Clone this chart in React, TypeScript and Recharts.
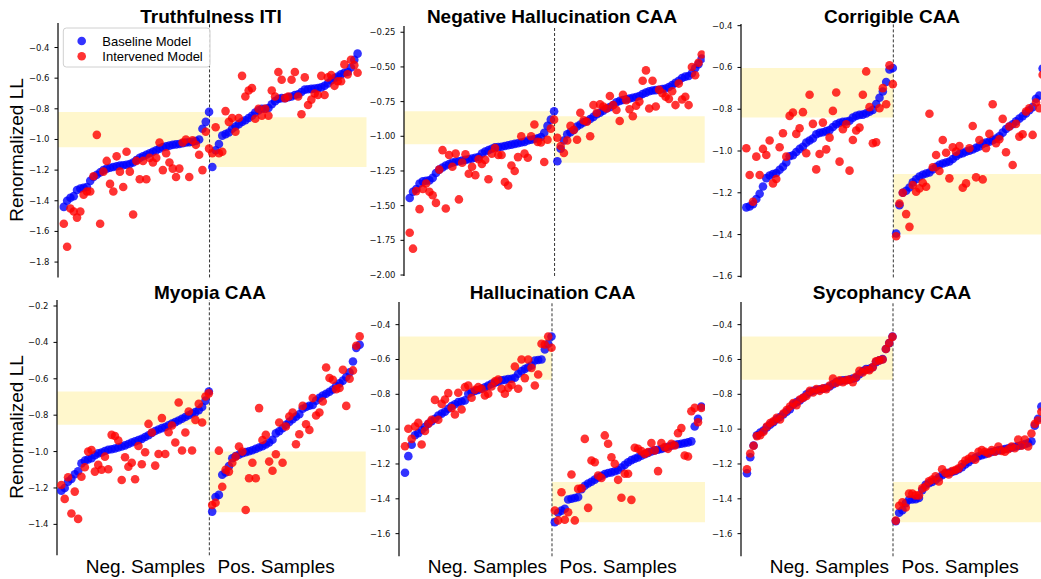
import React from "react";
import {
  ScatterChart,
  Scatter,
  XAxis,
  YAxis,
  ReferenceArea,
  ReferenceLine,
} from "recharts";

// Truthfulness ITI
const truthNegBase = [
  -1.44, -1.40, -1.38, -1.37, -1.33, -1.32, -1.315, -1.31, -1.27, -1.245,
  -1.23, -1.215, -1.20, -1.19, -1.185, -1.18, -1.175, -1.17, -1.168, -1.165,
  -1.16, -1.15, -1.135, -1.12, -1.11, -1.10, -1.09, -1.08, -1.07, -1.06,
  -1.05, -1.045, -1.04, -1.035, -1.032, -1.03, -1.025, -1.02, -1.018, -1.015,
  -1.01, -1.0, -0.93, -0.885, -0.82,
];
const truthNegInt = [
  -1.55, -1.70, -1.45, -1.47, -1.51, -1.47, -1.36, -1.34, -1.34, -1.24,
  -0.97, -1.55, -1.21, -1.14, -1.29, -1.34, -1.11, -1.21, -1.31, -1.08,
  -1.21, -1.49, -1.14, -1.26, -1.14, -1.26, -1.12, -1.15, -1.12, -1.02,
  -1.20, -1.09, -1.15, -1.19, -1.245, -1.19, -1.02, -1.00, -1.245, -1.005,
  -1.035, -1.10, -1.20, -0.95, -1.06,
];
const truthPosBase = [
  -1.18, -1.07, -1.03, -0.975, -0.965, -0.955, -0.93, -0.915, -0.90, -0.885,
  -0.875, -0.86, -0.845, -0.825, -0.81, -0.80, -0.80, -0.795, -0.77, -0.75,
  -0.735, -0.73, -0.73, -0.725, -0.72, -0.71, -0.705, -0.69, -0.675, -0.672,
  -0.67, -0.668, -0.665, -0.66, -0.65, -0.635, -0.615, -0.60, -0.59, -0.575,
  -0.565, -0.56, -0.53, -0.48, -0.44,
];
const truthPosInt = [
  -1.09, -0.92, -1.09, -1.08, -0.815, -0.885, -0.86, -0.95, -0.86, -0.585,
  -0.72, -0.68, -0.665, -0.865, -0.80, -0.845, -0.80, -0.845, -0.68, -0.72,
  -0.56, -0.61, -0.73, -0.72, -0.61, -0.56, -0.72, -0.835, -0.595, -0.775,
  -0.74, -0.70, -0.71, -0.585, -0.71, -0.595, -0.58, -0.65, -0.62, -0.62,
  -0.51, -0.575, -0.48, -0.515, -0.565,
];

// Negative Hallucination CAA
const negHalNegBase = [
  -1.445, -1.40, -1.38, -1.34, -1.325, -1.32, -1.318, -1.30, -1.265, -1.24,
  -1.225, -1.21, -1.20, -1.19, -1.183, -1.18, -1.175, -1.17, -1.165, -1.16,
  -1.155, -1.15, -1.125, -1.11, -1.10, -1.09, -1.08, -1.078, -1.075, -1.07,
  -1.065, -1.06, -1.055, -1.05, -1.045, -1.04, -1.03, -1.025, -1.02, -1.015,
  -1.005, -0.975, -0.925, -0.88, -0.82,
];
const negHalNegInt = [
  -1.695, -1.81, -1.395, -1.525, -1.38, -1.34, -1.40, -1.425, -1.48, -1.24,
  -1.10, -1.52, -1.135, -1.22, -1.125, -1.455, -1.19, -1.13, -1.27, -1.22,
  -1.28, -1.165, -1.20, -1.17, -1.31, -1.125, -1.085, -1.135, -1.135, -1.33,
  -1.355, -1.21, -1.25, -1.15, -1.0, -1.125, -1.155, -1.0, -0.915, -1.04,
  -1.045, -1.185, -1.025, -0.945, -0.88,
];
const negHalPosBase = [
  -1.18, -1.09, -1.03, -0.985, -0.97, -0.955, -0.93, -0.915, -0.90, -0.89,
  -0.875, -0.86, -0.84, -0.83, -0.815, -0.80, -0.79, -0.775, -0.755, -0.745,
  -0.738, -0.733, -0.728, -0.722, -0.717, -0.71, -0.695, -0.685, -0.675, -0.67,
  -0.667, -0.664, -0.66, -0.655, -0.645, -0.63, -0.615, -0.60, -0.58, -0.57,
  -0.565, -0.545, -0.51, -0.48, -0.44,
];
const negHalPosInt = [
  -1.01, -1.07, -1.12, -1.03, -0.925, -0.955, -1.025, -0.83, -0.885, -0.895,
  -1.0, -0.775, -0.83, -0.77, -0.785, -0.80, -0.71, -0.775, -0.81, -0.89,
  -0.70, -0.74, -0.805, -0.855, -0.78, -0.75, -0.60, -0.525, -0.80, -0.60,
  -0.785, -0.665, -0.69, -0.715, -0.73, -0.675, -0.775, -0.62, -0.735, -0.715,
  -0.775, -0.50, -0.56, -0.47, -0.41,
];

// Corrigible CAA
const corrNegBase = [
  -1.27, -1.265, -1.255, -1.23, -1.205, -1.17, -1.13, -1.117, -1.11, -1.105,
  -1.09, -1.075, -1.055, -1.025, -1.02, -1.005, -0.99, -0.98, -0.96, -0.95,
  -0.94, -0.92, -0.913, -0.91, -0.905, -0.90, -0.885, -0.872, -0.865, -0.86,
  -0.859, -0.855, -0.84, -0.832, -0.827, -0.826, -0.82, -0.812, -0.803, -0.775,
  -0.745, -0.715, -0.67, -0.61, -0.603,
];
const corrNegInt = [
  -0.987, -1.115, -1.243, -1.027, -1.115, -0.99, -1.019, -0.95, -1.155, -1.134,
  -0.982, -0.915, -1.027, -0.832, -0.816, -0.918, -0.891, -0.814, -1.011, -0.731,
  -0.87, -1.088, -1.014, -0.864, -0.992, -0.936, -0.808, -0.72, -1.051, -0.896,
  -0.872, -1.094, -0.947, -0.902, -0.888, -0.731, -0.619, -0.79, -0.963, -0.958,
  -0.795, -0.699, -0.776, -0.59, -0.68,
];
const corrPosBase = [
  -1.395, -1.26, -1.20, -1.19, -1.175, -1.15, -1.135, -1.122, -1.114, -1.108,
  -1.103, -1.088, -1.075, -1.066, -1.06, -1.055, -1.05, -1.038, -1.025, -1.015,
  -1.01, -1.003, -0.998, -0.993, -0.985, -0.978, -0.966, -0.96, -0.955, -0.948,
  -0.94, -0.93, -0.912, -0.895, -0.883, -0.872, -0.858, -0.845, -0.833, -0.82,
  -0.805, -0.79, -0.75, -0.735, -0.605,
];
const corrPosInt = [
  -1.408, -1.251, -1.20, -1.302, -1.363, -1.163, -1.195, -1.179, -1.152, -1.171,
  -0.822, -1.078, -1.019, -1.096, -0.947, -1.008, -1.131, -0.982, -1.003, -0.976,
  -1.176, -1.155, -0.987, -0.88, -1.126, -0.947, -1.136, -0.987, -0.918, -0.776,
  -0.963, -0.944, -0.846, -1.006, -0.883, -1.067, -0.87, -0.931, -0.92, -0.811,
  -0.795, -0.923, -0.768, -0.795, -0.635,
];

// Myopia CAA
const myoNegBase = [
  -1.215, -1.20, -1.165, -1.15, -1.125, -1.108, -1.065, -1.05, -1.043, -1.037,
  -1.02, -1.01, -1.005, -0.997, -0.99, -0.987, -0.983, -0.978, -0.972, -0.966,
  -0.958, -0.95, -0.944, -0.937, -0.93, -0.92, -0.91, -0.898, -0.887, -0.879,
  -0.871, -0.865, -0.855, -0.846, -0.838, -0.829, -0.82, -0.81, -0.80, -0.791,
  -0.783, -0.772, -0.755, -0.72, -0.67,
];
const myoNegInt = [
  -1.184, -1.26, -1.141, -1.34, -1.22, -1.37, -1.138, -1.086, -1.0, -0.991,
  -1.11, -1.073, -1.10, -1.028, -1.097, -0.908, -0.914, -0.939, -1.156, -1.031,
  -1.083, -1.061, -1.152, -0.969, -1.07, -1.004, -0.848, -0.895, -1.077, -1.013,
  -0.816, -1.013, -0.894, -0.857, -0.95, -0.73, -0.994, -0.895, -0.78, -0.994,
  -0.826, -0.738, -0.84, -0.697, -0.68,
];
const myoPosBase = [
  -1.33, -1.25, -1.238, -1.127, -1.115, -1.08, -1.037, -1.025, -1.017, -1.009,
  -1.003, -0.998, -0.993, -0.985, -0.978, -0.971, -0.961, -0.95, -0.935, -0.90,
  -0.888, -0.872, -0.853, -0.837, -0.822, -0.808, -0.795, -0.765, -0.755, -0.748,
  -0.744, -0.72, -0.705, -0.692, -0.682, -0.671, -0.659, -0.638, -0.625, -0.61,
  -0.59, -0.565, -0.505, -0.43, -0.413,
];
const myoPosInt = [
  -1.294, -1.281, -0.995, -1.193, -1.10, -1.11, -1.061, -1.028, -0.972, -1.0,
  -1.321, -1.147, -1.061, -1.147, -0.761, -0.936, -0.908, -1.055, -1.105, -1.015,
  -0.84, -1.061, -0.862, -0.807, -0.785, -0.96, -0.905, -0.749, -0.85, -0.881,
  -0.706, -0.802, -0.785, -0.725, -0.538, -0.596, -0.605, -0.657, -0.651, -0.55,
  -0.749, -0.60, -0.554, -0.418, -0.367,
];

// Hallucination CAA
const halNegBase = [
  -1.25, -1.155, -1.09, -1.035, -1.023, -1.005, -0.988, -0.969, -0.955, -0.94,
  -0.922, -0.911, -0.90, -0.883, -0.868, -0.857, -0.845, -0.841, -0.835, -0.797,
  -0.788, -0.781, -0.775, -0.768, -0.76, -0.75, -0.74, -0.733, -0.727, -0.72,
  -0.717, -0.713, -0.711, -0.705, -0.682, -0.667, -0.655, -0.645, -0.634, -0.606,
  -0.603, -0.60, -0.543, -0.51, -0.468,
];
const halNegInt = [
  -1.098, -0.998, -1.056, -0.985, -0.964, -1.088, -1.011, -0.969, -0.946, -0.832,
  -0.946, -0.855, -0.83, -0.793, -0.879, -0.916, -0.791, -0.887, -0.759, -0.749,
  -0.82, -0.774, -0.759, -0.768, -0.807, -0.797, -0.755, -0.726, -0.715, -0.768,
  -0.797, -0.763, -0.746, -0.64, -0.768, -0.60, -0.707, -0.60, -0.648, -0.749,
  -0.686, -0.51, -0.514, -0.468, -0.533,
];
const halPosBase = [
  -1.534, -1.48, -1.468, -1.457, -1.404, -1.40, -1.395, -1.39, -1.345, -1.325,
  -1.312, -1.302, -1.29, -1.278, -1.268, -1.258, -1.252, -1.248, -1.242, -1.235,
  -1.22, -1.205, -1.19, -1.178, -1.17, -1.162, -1.153, -1.144, -1.136, -1.128,
  -1.122, -1.118, -1.114, -1.108, -1.101, -1.095, -1.09, -1.087, -1.084, -1.08,
  -1.076, -1.07, -0.985, -0.941, -0.87,
];
const halPosInt = [
  -1.467, -1.524, -1.362, -1.52, -1.477, -1.26, -1.524, -1.343, -1.339, -1.056,
  -1.452, -1.18, -1.19, -1.266, -1.28, -1.036, -1.084, -1.161, -1.199, -1.291,
  -1.394, -1.256, -1.256, -1.406, -1.107, -1.113, -1.126, -1.142, -1.132, -1.08,
  -1.122, -1.241, -1.08, -1.103, -1.113, -1.084, -1.094, -1.023, -0.994, -1.151,
  -1.157, -0.897, -0.878, -0.96, -0.878,
];

// Sycophancy CAA
const sycNegBase = [
  -1.253, -1.161, -1.094, -1.035, -1.02, -1.008, -0.99, -0.975, -0.96, -0.943,
  -0.93, -0.916, -0.90, -0.885, -0.858, -0.845, -0.835, -0.82, -0.80, -0.788,
  -0.78, -0.775, -0.771, -0.768, -0.762, -0.755, -0.742, -0.73, -0.725, -0.72,
  -0.718, -0.715, -0.71, -0.705, -0.685, -0.667, -0.655, -0.654, -0.645, -0.615,
  -0.605, -0.598, -0.54, -0.506, -0.468,
];
const sycNegInt = [
  -1.23, -1.14, -1.095, -1.04, -1.035, -1.015, -0.985, -0.965, -0.955, -0.935,
  -0.945, -0.91, -0.89, -0.87, -0.85, -0.862, -0.83, -0.82, -0.81, -0.78,
  -0.79, -0.77, -0.78, -0.765, -0.77, -0.75, -0.71, -0.735, -0.72, -0.73,
  -0.72, -0.715, -0.73, -0.70, -0.665, -0.675, -0.66, -0.662, -0.645, -0.61,
  -0.605, -0.60, -0.54, -0.505, -0.47,
];
const sycPosBase = [
  -1.528, -1.48, -1.465, -1.425, -1.405, -1.404, -1.402, -1.395, -1.35, -1.32,
  -1.31, -1.303, -1.292, -1.278, -1.265, -1.255, -1.25, -1.246, -1.24, -1.23,
  -1.218, -1.203, -1.19, -1.176, -1.164, -1.156, -1.15, -1.144, -1.137, -1.131,
  -1.127, -1.122, -1.118, -1.114, -1.11, -1.106, -1.101, -1.097, -1.092, -1.086,
  -1.08, -1.07, -0.98, -0.94, -0.87,
];
const sycPosInt = [
  -1.525, -1.44, -1.42, -1.45, -1.37, -1.37, -1.38, -1.38, -1.34, -1.33,
  -1.30, -1.29, -1.27, -1.30, -1.23, -1.25, -1.26, -1.24, -1.235, -1.225,
  -1.20, -1.18, -1.17, -1.155, -1.175, -1.13, -1.12, -1.13, -1.14, -1.12,
  -1.13, -1.10, -1.125, -1.13, -1.115, -1.10, -1.11, -1.06, -1.095, -1.06,
  -1.10, -1.025, -0.97, -0.95, -0.90,
];

// y ticks
const ticksTenths1 = [-1.8, -1.6, -1.4, -1.2, -1.0, -0.8, -0.6, -0.4];
const ticksQuarters = [-2.0, -1.75, -1.5, -1.25, -1.0, -0.75, -0.5, -0.25];
const ticksTenths2 = [-1.6, -1.4, -1.2, -1.0, -0.8, -0.6, -0.4];
const ticksTenths3 = [-1.4, -1.2, -1.0, -0.8, -0.6, -0.4, -0.2];

// shaded bands [low, high] for neg / pos halves
const truthBands = [[-1.05, -0.82], [-1.18, -0.855]];
const negHalBands = [[-1.058, -0.82], [-1.19, -0.856]];
const corrBands = [[-0.84, -0.603], [-1.40, -1.11]];
const myoBands = [[-0.853, -0.67], [-1.334, -1.0]];
const halBands = [[-0.717, -0.468], [-1.534, -1.304]];
const sycBands = [[-0.717, -0.468], [-1.534, -1.304]];

const BLUE = "#0000ff";
const RED = "#ff0000";
const SPLIT = 44.15;
const TEXT_FONT = "'Liberation Sans', Arial, Helvetica, sans-serif";

type Panel = {
  title: string;
  negBase: number[];
  negInt: number[];
  posBase: number[];
  posInt: number[];
  bands: number[][];
  ticks: number[];
  decimals: number;
  yDomain: [number, number];
  xDomain: [number, number];
  left: number;
  top: number;
  w: number;
  h: number;
};

const panels: Panel[] = [
  {
    title: "Truthfulness ITI",
    negBase: truthNegBase, negInt: truthNegInt, posBase: truthPosBase, posInt: truthPosInt,
    bands: truthBands, ticks: ticksTenths1, decimals: 1,
    yDomain: [-1.9, -0.24], xDomain: [-1.76, 91.7],
    left: 57.5, top: 23.3, w: 308.5, h: 254.4,
  },
  {
    title: "Negative Hallucination CAA",
    negBase: negHalNegBase, negInt: negHalNegInt, posBase: negHalPosBase, posInt: negHalPosInt,
    bands: negHalBands, ticks: ticksQuarters, decimals: 2,
    yDomain: [-2.007, -0.205], xDomain: [-1.74, 89.9],
    left: 404.3, top: 26, w: 300.7, h: 250,
  },
  {
    title: "Corrigible CAA",
    negBase: corrNegBase, negInt: corrNegInt, posBase: corrPosBase, posInt: corrPosInt,
    bands: corrBands, ticks: ticksTenths2, decimals: 1,
    yDomain: [-1.605, -0.392], xDomain: [-1.6, 91.3],
    left: 740.7, top: 24.3, w: 309.3, h: 253.4,
  },
  {
    title: "Myopia CAA",
    negBase: myoNegBase, negInt: myoNegInt, posBase: myoPosBase, posInt: myoPosInt,
    bands: myoBands, ticks: ticksTenths3, decimals: 1,
    yDomain: [-1.57, -0.167], xDomain: [-1.3, 90.8],
    left: 57.3, top: 300, w: 308.7, h: 255.3,
  },
  {
    title: "Hallucination CAA",
    negBase: halNegBase, negInt: halNegInt, posBase: halPosBase, posInt: halPosInt,
    bands: halBands, ticks: ticksTenths2, decimals: 1,
    yDomain: [-1.73, -0.27], xDomain: [-1.8, 90.1],
    left: 399, top: 301.7, w: 306, h: 254.3,
  },
  {
    title: "Sycophancy CAA",
    negBase: sycNegBase, negInt: sycNegInt, posBase: sycPosBase, posInt: sycPosInt,
    bands: sycBands, ticks: ticksTenths2, decimals: 1,
    yDomain: [-1.73, -0.27], xDomain: [-1.8, 91.7],
    left: 740.7, top: 301.7, w: 309.3, h: 254.3,
  },
];

function toPoints(neg: number[], pos: number[]) {
  return [
    ...neg.map((y, i) => ({ x: i, y })),
    ...pos.map((y, i) => ({ x: neg.length + i, y })),
  ];
}

const dot = (color: string) => (props: any) => (
  <circle cx={props.cx} cy={props.cy} r={4.3} fill={color} fillOpacity={0.8} />
);

function PanelChart({ p }: { p: Panel }) {
  const YW = 50;
  const M = 6;
  const fmt = (v: number) => (v < 0 ? "\u2212" : "") + Math.abs(v).toFixed(p.decimals);
  return (
    <div style={{ position: "absolute", left: p.left - YW, top: p.top - M }}>
      <ScatterChart
        width={YW + p.w + M}
        height={p.h + 2 * M}
        margin={{ top: M, right: M, bottom: M, left: 0 }}
      >
        <XAxis
          type="number"
          dataKey="x"
          domain={p.xDomain}
          allowDataOverflow
          tick={false}
          tickLine={false}
          height={0}
          axisLine={{ stroke: "#000", strokeWidth: 1.2 }}
        />
        <YAxis
          type="number"
          dataKey="y"
          domain={p.yDomain}
          allowDataOverflow
          ticks={p.ticks}
          interval={0}
          tickFormatter={fmt}
          width={YW}
          tickSize={3.5}
          tickMargin={5}
          axisLine={{ stroke: "#000", strokeWidth: 1.2 }}
          tickLine={{ stroke: "#000" }}
          tick={{ fontSize: 8.5, fill: "#111", fontFamily: "'DejaVu Sans', sans-serif" }}
        />
        <ReferenceArea
          x1={p.xDomain[0]} x2={SPLIT} y1={p.bands[0][0]} y2={p.bands[0][1]}
          fill="#ffd700" fillOpacity={0.2} stroke="none"
        />
        <ReferenceArea
          x1={SPLIT} x2={p.xDomain[1]} y1={p.bands[1][0]} y2={p.bands[1][1]}
          fill="#ffd700" fillOpacity={0.2} stroke="none"
        />
        <ReferenceLine x={SPLIT} stroke="#333" strokeWidth={1} strokeDasharray="3 2" />
        <Scatter
          data={toPoints(p.negBase, p.posBase)}
          fill={BLUE}
          shape={dot(BLUE)}
          isAnimationActive={false}
        />
        <Scatter
          data={toPoints(p.negInt, p.posInt)}
          fill={RED}
          shape={dot(RED)}
          isAnimationActive={false}
        />
      </ScatterChart>
    </div>
  );
}

// centre x of each title, and split x of the bottom labels
const titleX = [211, 552, 892, 210, 552.5, 892];
const splitPx = [209, 551, 893];

export default function App() {
  return (
    <div
      style={{
        position: "absolute",
        left: 0,
        top: 0,
        width: 1041,
        height: 579,
        overflow: "hidden",
        background: "#fff",
      }}
    >
      {panels.map((p) => (
        <PanelChart key={p.title} p={p} />
      ))}
      <svg
        width={1041}
        height={579}
        style={{ position: "absolute", left: 0, top: 0, pointerEvents: "none" }}
      >
        <g fontFamily={TEXT_FONT} fill="#000">
          {panels.map((p, i) => (
            <text
              key={p.title}
              x={titleX[i]}
              y={i < 3 ? 23.3 : 299.3}
              textAnchor="middle"
              fontSize={19}
              fontWeight="bold"
            >
              {p.title}
            </text>
          ))}
          <text transform="translate(22.5,150) rotate(-90)" textAnchor="middle" fontSize={19}>
            Renormalized LL
          </text>
          <text transform="translate(22.5,427) rotate(-90)" textAnchor="middle" fontSize={19}>
            Renormalized LL
          </text>
          {splitPx.map((sx) => (
            <g key={sx}>
              <text x={sx - 4} y={573.3} textAnchor="end" fontSize={19}>
                Neg. Samples
              </text>
              <text x={sx + 8.5} y={573.3} textAnchor="start" fontSize={19}>
                Pos. Samples
              </text>
            </g>
          ))}
        </g>
        <g>
          <rect
            x={63.3} y={28} width={146.7} height={39} rx={3}
            fill="#fff" fillOpacity={0.8} stroke="#d0d0d0" strokeWidth={1}
          />
          <circle cx={81.7} cy={41} r={4.3} fill={BLUE} fillOpacity={0.8} />
          <circle cx={81.7} cy={56.3} r={4.3} fill={RED} fillOpacity={0.8} />
          <text x={102.3} y={45.5} fontSize={13} fontFamily={TEXT_FONT} fill="#000">
            Baseline Model
          </text>
          <text x={102.3} y={61} fontSize={13} fontFamily={TEXT_FONT} fill="#000">
            Intervened Model
          </text>
        </g>
      </svg>
    </div>
  );
}
